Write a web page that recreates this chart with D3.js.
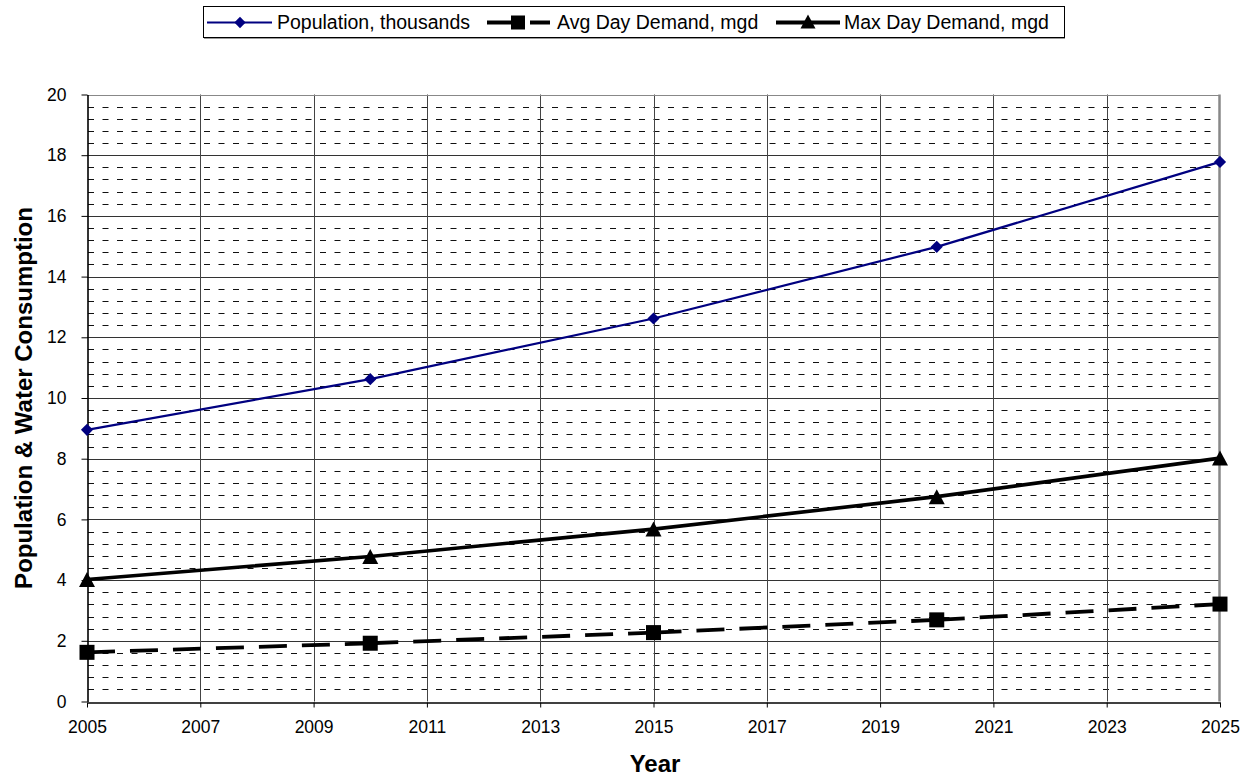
<!DOCTYPE html>
<html>
<head>
<meta charset="utf-8">
<script src="https://cdn.jsdelivr.net/npm/d3@7"></script>
<style>
  html, body { margin: 0; padding: 0; background: #fff; }
  svg { display: block; font-family: "Liberation Sans", Arial, sans-serif; }
</style>
</head>
<body>
<svg id="chart" width="1254" height="778"></svg>
<script>
// Projection years and series values
const years = [2005, 2010, 2015, 2020, 2025];
const population = [8.95, 10.62, 12.62, 14.98, 17.78];     // thousands
const avgDayDemand = [1.62, 1.92, 2.27, 2.69, 3.21];       // mgd
const maxDayDemand = [4.02, 4.78, 5.68, 6.75, 8.02];       // mgd

const xTickValues = [2005, 2007, 2009, 2011, 2013, 2015, 2017, 2019, 2021, 2023, 2025];
const yTickValues = [0, 2, 4, 6, 8, 10, 12, 14, 16, 18, 20];
const yMinorValues = d3.range(0, 20.0001, 0.4).filter(v => Math.abs(v / 2 - Math.round(v / 2)) > 1e-6);

const legendLabels = ["Population, thousands", "Avg Day Demand, mgd", "Max Day Demand, mgd"];

const FONT = "Liberation Sans, Arial, sans-serif";
const svg = d3.select("#chart");
const plot = { left: 87, right: 1220, top: 94.5, bottom: 701.5 };

const x = d3.scaleLinear().domain([2005, 2025]).range([plot.left, plot.right]);
const y = d3.scaleLinear().domain([0, 20]).range([plot.bottom, plot.top]);
const crisp = v => Math.round(v) + 0.5;

// Minor dashed gridlines
svg.append("g").selectAll("line").data(yMinorValues).join("line")
  .attr("x1", plot.left + 1).attr("x2", plot.right - 2)
  .attr("y1", d => crisp(y(d))).attr("y2", d => crisp(y(d)))
  .attr("stroke", "#111").attr("stroke-width", 1).attr("stroke-dasharray", "6,8.5");

// Major horizontal gridlines
svg.append("g").selectAll("line").data(yTickValues.slice(1, -1)).join("line")
  .attr("x1", plot.left).attr("x2", plot.right)
  .attr("y1", d => crisp(y(d))).attr("y2", d => crisp(y(d)))
  .attr("stroke", "#333").attr("stroke-width", 1);

// Vertical gridlines
svg.append("g").selectAll("line").data(xTickValues.slice(1, -1)).join("line")
  .attr("x1", d => crisp(x(d))).attr("x2", d => crisp(x(d)))
  .attr("y1", plot.top).attr("y2", plot.bottom)
  .attr("stroke", "#444").attr("stroke-width", 1);

// Plot area border: top and right edges in gray
svg.append("line").attr("x1", plot.left).attr("x2", plot.right)
  .attr("y1", crisp(plot.top)).attr("y2", crisp(plot.top))
  .attr("stroke", "#888").attr("stroke-width", 1);
svg.append("line").attr("x1", plot.right - 0.5).attr("x2", plot.right - 0.5)
  .attr("y1", plot.top).attr("y2", plot.bottom)
  .attr("stroke", "#888").attr("stroke-width", 2.5);

// Axes
const xAxis = d3.axisBottom(x).tickValues(xTickValues).tickFormat(d3.format("d"))
  .tickSizeInner(5).tickSizeOuter(0).tickPadding(13);
const gx = svg.append("g").attr("transform", `translate(0,${crisp(plot.bottom)})`).call(xAxis);
gx.select(".domain").attr("stroke", "#000").attr("stroke-width", 1.4);
gx.selectAll(".tick line").attr("stroke", "#000");
gx.selectAll("text").attr("font-size", 17.5).attr("fill", "#000").attr("font-family", FONT);

const yAxis = d3.axisLeft(y).tickValues(yTickValues).tickFormat(d3.format("d"))
  .tickSizeInner(6).tickSizeOuter(0).tickPadding(15);
const gy = svg.append("g").attr("transform", `translate(${plot.left + 0.5},0)`).call(yAxis);
gy.select(".domain").attr("stroke", "#000").attr("stroke-width", 1.6);
gy.selectAll(".tick line").attr("stroke", "#000");
gy.selectAll("text").attr("font-size", 17.5).attr("fill", "#000").attr("font-family", FONT);

// Axis titles
svg.append("text").attr("x", 655).attr("y", 772)
  .attr("text-anchor", "middle").attr("font-size", 24).attr("font-weight", "bold").text("Year");
svg.append("text")
  .attr("transform", `translate(32,${(plot.top + plot.bottom) / 2}) rotate(-90)`)
  .attr("text-anchor", "middle").attr("font-size", 24).attr("font-weight", "bold")
  .text("Population & Water Consumption");

const line = d3.line().x(d => x(d[0])).y(d => y(d[1]));
const pts = vals => years.map((yr, i) => [yr, vals[i]]);
const segments = vals => d3.pairs(pts(vals));

// Triangle marker path centred on its bounding box
const triPath = (w, h) => `M0,${-h / 2}L${w / 2},${h / 2}L${-w / 2},${h / 2}Z`;

// Avg Day Demand: long-dash line, dash pattern restarts on each segment
svg.append("g").selectAll("path").data(segments(avgDayDemand)).join("path")
  .attr("d", line)
  .attr("fill", "none").attr("stroke", "#000").attr("stroke-width", 3.8)
  .attr("stroke-dasharray", "28,15");
svg.append("g").selectAll("rect").data(pts(avgDayDemand)).join("rect")
  .attr("x", d => x(d[0]) - 7.5).attr("y", d => y(d[1]) - 7.5)
  .attr("width", 15).attr("height", 15).attr("fill", "#000");

// Max Day Demand: solid line with triangles
svg.append("path").datum(pts(maxDayDemand)).attr("d", line)
  .attr("fill", "none").attr("stroke", "#000").attr("stroke-width", 3.6);
svg.append("g").selectAll("path").data(pts(maxDayDemand)).join("path")
  .attr("d", triPath(16, 15))
  .attr("transform", d => `translate(${x(d[0])},${y(d[1])})`).attr("fill", "#000");

// Population: navy line with diamonds
svg.append("path").datum(pts(population)).attr("d", line)
  .attr("fill", "none").attr("stroke", "#000080").attr("stroke-width", 2.2);
svg.append("g").selectAll("rect").data(pts(population)).join("rect")
  .attr("x", -4.3).attr("y", -4.3).attr("width", 8.6).attr("height", 8.6)
  .attr("transform", d => `translate(${x(d[0])},${y(d[1])}) rotate(45)`).attr("fill", "#000080");

// Legend
const lg = svg.append("g");
lg.append("rect").attr("x", 203.5).attr("y", 6.5).attr("width", 861).attr("height", 31)
  .attr("fill", "#fff").attr("stroke", "#000").attr("stroke-width", 1);
lg.append("line").attr("x1", 204).attr("x2", 1065).attr("y1", 38.5).attr("y2", 38.5)
  .attr("stroke", "#999").attr("stroke-width", 1);
const ly = 22.5, lt = 29;
// Population entry
lg.append("line").attr("x1", 207).attr("x2", 272).attr("y1", ly).attr("y2", ly)
  .attr("stroke", "#000080").attr("stroke-width", 2);
lg.append("rect").attr("x", -4).attr("y", -4).attr("width", 8).attr("height", 8)
  .attr("transform", `translate(240,${ly}) rotate(45)`).attr("fill", "#000080");
lg.append("text").attr("x", 277).attr("y", lt).attr("font-size", 19.5).text(legendLabels[0]);
// Avg Day Demand entry
lg.append("line").attr("x1", 487).attr("x2", 512).attr("y1", ly).attr("y2", ly)
  .attr("stroke", "#000").attr("stroke-width", 4);
lg.append("line").attr("x1", 530).attr("x2", 550).attr("y1", ly).attr("y2", ly)
  .attr("stroke", "#000").attr("stroke-width", 4);
lg.append("rect").attr("x", 511).attr("y", ly - 7).attr("width", 14).attr("height", 14).attr("fill", "#000");
lg.append("text").attr("x", 557).attr("y", lt).attr("font-size", 19.5).text(legendLabels[1]);
// Max Day Demand entry
lg.append("line").attr("x1", 776).attr("x2", 840).attr("y1", ly).attr("y2", ly)
  .attr("stroke", "#000").attr("stroke-width", 4);
lg.append("path").attr("d", triPath(15, 14))
  .attr("transform", `translate(808,${ly - 1})`).attr("fill", "#000");
lg.append("text").attr("x", 844).attr("y", lt).attr("font-size", 19.5).text(legendLabels[2]);
</script>
</body>
</html>
